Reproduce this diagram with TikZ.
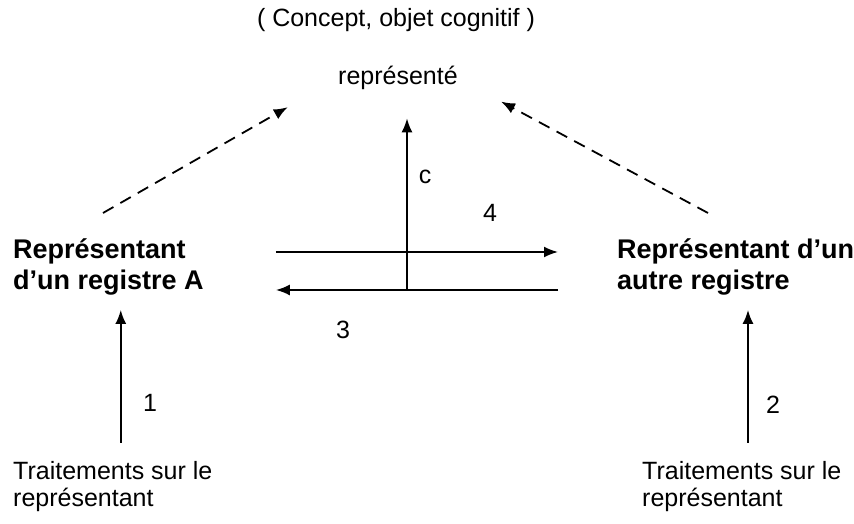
\documentclass[tikz,border=0pt]{standalone}
\usepackage{fontspec}
\setmainfont{Liberation Sans}
\usepackage{tikz}
\usetikzlibrary{positioning}
\usetikzlibrary{arrows.meta}
\usetikzlibrary{calc}
\tikzstyle{regtext}=[font=\bfseries\fontsize{27}{31}\selectfont, align=left, inner sep=0pt]
\tikzstyle{plaintext}=[font=\fontsize{25}{27}\selectfont, align=left, inner sep=0pt]
\tikzstyle{edge} = [draw, line width=1.8pt, -{Latex[length=14pt,width=11pt]}]
\tikzstyle{dashedge} = [edge, dash pattern=on 12pt off 8pt]
\tikzstyle{weight} = [font=\fontsize{25}{27}\selectfont, inner sep=0pt]

\begin{document}
\begin{tikzpicture}[x=1pt,y=1pt]
  \useasboundingbox (0,0) rectangle (854,524);

  % top
  \node[plaintext, anchor=base] (concept) at (396,497) {( Concept, objet cognitif )};
  \node[plaintext, anchor=base] (rep) at (398,439) {représenté};

  % registers
  \node[regtext, anchor=base west] (regA) at (13,234) {Représentant\\d’un registre A};
  \node[regtext, anchor=base west] (regB) at (617,234) {Représentant d’un\\autre registre};

  \foreach \x/\name in {13/traitA, 642/traitB}
         \node[plaintext, anchor=base west] (\name) at (\x,17) {Traitements sur le\\représentant};

  \coordinate (tailA) at (103,311);
  \coordinate (tailB) at (708,311);
  \coordinate (up) at (0,272);
  \coordinate (lo) at (0,234);
  \coordinate (cross) at (407,234);

  \draw[dashedge, shorten >=58pt] (tailA) -- (rep.west);
  \draw[dashedge, shorten >=49pt] (tailB) -- (rep.east);

  \draw[edge, shorten <=72pt, shorten >=59pt] (regA.east |- up) -- (regB.west |- up);
  \draw[edge, shorten <=59pt, shorten >=72pt] (regB.west |- lo) -- (regA.east |- lo);
  \draw[edge, shorten >=28pt] (cross) -- (cross |- rep.south);

  \draw[edge, shorten <=19pt, shorten >=14pt] ([xshift=8pt]traitA.north) -- ([xshift=8pt]traitA.north |- regA.south);
  \draw[edge, shorten <=19pt, shorten >=14pt] ([xshift=106pt]traitB.north west) -- ([xshift=106pt]traitB.north west |- regB.south);

  \foreach \x/\y/\name/\label in {150/121/n1/1, 773/119/n2/2, 425/347/nc/c, 490/311/n4/4, 343/194/n3/3}
          \node[weight] (\name) at (\x,\y) {\label};

\end{tikzpicture}
\end{document}
